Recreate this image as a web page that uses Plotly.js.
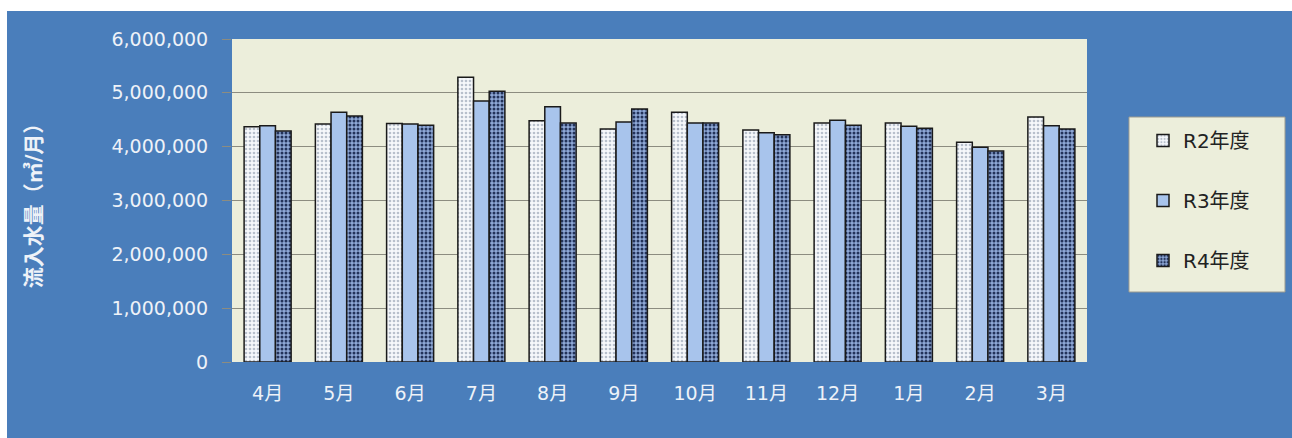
<!DOCTYPE html>
<html>
<head>
<meta charset="utf-8">
<script src="https://cdn.plot.ly/plotly-3.0.1.min.js"></script>
<style>
html,body{margin:0;padding:0;background:#ffffff;width:1292px;height:438px;overflow:hidden;}
#chart{position:absolute;left:7px;top:11px;width:1285px;height:427px;}
</style>
</head>
<body>
<div id="chart"></div>
<script>
const months = ["4月","5月","6月","7月","8月","9月","10月","11月","12月","1月","2月","3月"];
const seriesNames = ["R2年度","R3年度","R4年度"];
const r2 = [4370000,4420000,4430000,5290000,4480000,4330000,4640000,4310000,4440000,4440000,4080000,4550000];
const r3 = [4390000,4640000,4420000,4850000,4740000,4460000,4440000,4260000,4490000,4380000,3990000,4390000];
const r4 = [4290000,4570000,4400000,5030000,4440000,4700000,4440000,4220000,4400000,4340000,3920000,4330000];
const yTicks = [0,1000000,2000000,3000000,4000000,5000000,6000000];

const font = "DejaVu Sans, Noto Sans CJK JP, sans-serif";
const line = {color:"#1a1a1a", width:1.5};

const traces = [
  {type:"bar", name:seriesNames[0], x:months, y:r2, legendgroup:"a",
   marker:{color:"#f6f8fb", line:line,
     pattern:{shape:".", fgcolor:"#b8c0cc", bgcolor:"#f6f8fb", size:4, solidity:0.35}}},
  {type:"bar", name:seriesNames[1], x:months, y:r3, legendgroup:"b",
   marker:{color:"#a8c4ec", line:line}},
  {type:"bar", name:seriesNames[2], x:months, y:r4, legendgroup:"c",
   marker:{color:"#7c98c8", line:line,
     pattern:{shape:".", fgcolor:"#23335a", bgcolor:"#8ea8d6", size:4, solidity:0.45}}}
];

const layout = {
  width:1285, height:427,
  margin:{l:225, r:205, t:28, b:76},
  paper_bgcolor:"#4a7ebb",
  plot_bgcolor:"#eceedb",
  barmode:"group",
  bargap:0.34,
  bargroupgap:0,
  showlegend:true,
  font:{family:font, color:"#eef2f8"},
  xaxis:{
    type:"category",
    showgrid:false, zeroline:false, showline:false, ticks:"",
    tickfont:{family:font, size:19, color:"#eef2f8"},
    ticklabelstandoff:18,
    fixedrange:true
  },
  yaxis:{
    range:[0,6000000],
    tickvals:yTicks,
    tickformat:",d",
    showgrid:true, gridcolor:"#8c8c80", gridwidth:1,
    zeroline:false, showline:false,
    ticks:"outside", ticklen:9, tickcolor:"#8c8c80",
    ticklabelstandoff:10,
    tickfont:{family:font, size:19, color:"#eef2f8"},
    title:{text:"<b>流入水量（㎥/月）</b>", standoff:64,
      font:{family:font, size:21, color:"#eef2f8"}},
    fixedrange:true
  },
  shapes:[
    {type:"rect", xref:"paper", yref:"paper", x0:1.0491, x1:1.2316, y0:0.2167, y1:0.7585,
     fillcolor:"#eceedb", line:{color:"#9a9a90", width:1}, layer:"below"}
  ],
  legend:{
    x:1.0655, xanchor:"left", y:0.746, yanchor:"top",
    bgcolor:"rgba(0,0,0,0)", borderwidth:0,
    font:{family:font, size:20, color:"#222222"},
    traceorder:"grouped", tracegroupgap:31,
    itemclick:false, itemdoubleclick:false
  }
};

Plotly.newPlot("chart", traces, layout, {displayModeBar:false, staticPlot:true});
</script>
</body>
</html>
